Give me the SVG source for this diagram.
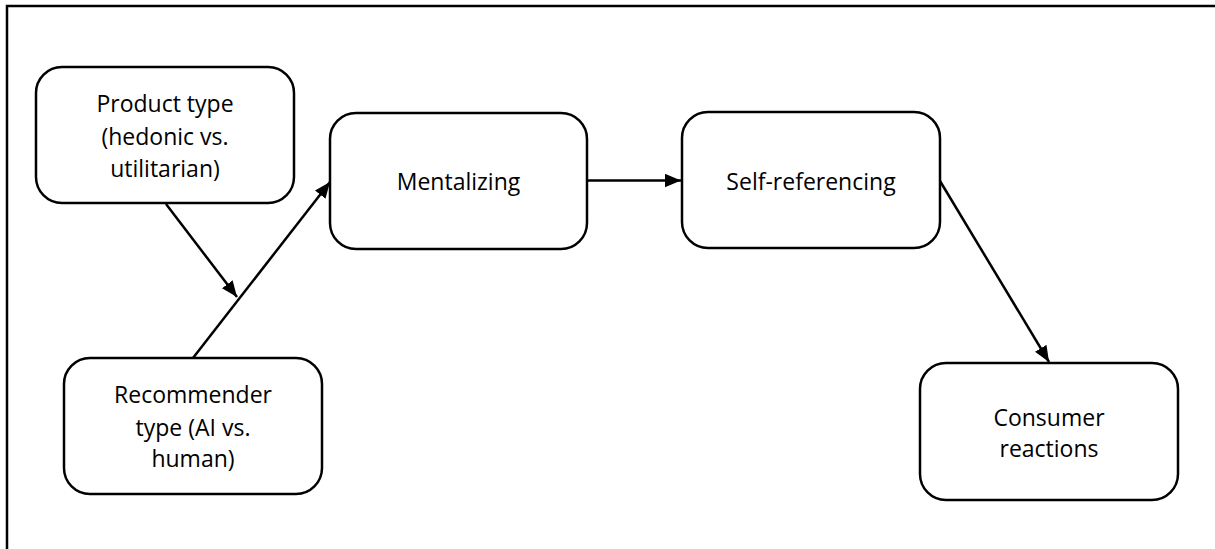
<svg xmlns="http://www.w3.org/2000/svg" width="1215" height="549" viewBox="0 0 1215 549">
<style>
.box{fill:#fff;stroke:#000;stroke-width:2.5}
.t{font-family:"Open Sans","Liberation Sans",sans-serif;font-size:23px;fill:#000;text-anchor:middle}
.c{stroke:#000;stroke-width:2.5;fill:none;marker-end:url(#ah)}
</style>
<defs>
<marker id="ah" markerUnits="userSpaceOnUse" markerWidth="17" markerHeight="14" refX="16" refY="7" orient="auto" viewBox="0 0 17 14">
<path d="M0,0.3 L16,7 L0,13.7 z" fill="#000"/>
</marker>
</defs>
<rect x="7" y="6" width="1230" height="560" fill="#fff" stroke="#000" stroke-width="2.5"/>
<g id="connectors">
<line class="c" x1="166" y1="204" x2="237" y2="297"/>
<line class="c" x1="193" y1="358" x2="330" y2="182"/>
<line class="c" x1="588" y1="180.5" x2="681" y2="180.5"/>
<line class="c" x1="940" y1="181" x2="1049" y2="362"/>
</g>
<g id="product-type">
<rect class="box" x="36" y="67" width="258" height="136" rx="26"/>
<text class="t" x="165" y="112">Product type</text>
<text class="t" x="165" y="145">(hedonic vs.</text>
<text class="t" x="165" y="177">utilitarian)</text>
</g>
<g id="recommender-type">
<rect class="box" x="64" y="358" width="258" height="136" rx="26"/>
<text class="t" x="193" y="403">Recommender</text>
<text class="t" x="193" y="436">type (AI vs.</text>
<text class="t" x="193" y="467">human)</text>
</g>
<g id="mentalizing">
<rect class="box" x="330" y="113" width="257" height="136" rx="26"/>
<text class="t" x="458.5" y="190">Mentalizing</text>
</g>
<g id="self-referencing">
<rect class="box" x="682" y="112" width="258" height="136" rx="26"/>
<text class="t" x="811" y="190">Self-referencing</text>
</g>
<g id="consumer-reactions">
<rect class="box" x="920" y="363" width="258" height="137" rx="26"/>
<text class="t" x="1049" y="426">Consumer</text>
<text class="t" x="1049" y="457">reactions</text>
</g>
</svg>
